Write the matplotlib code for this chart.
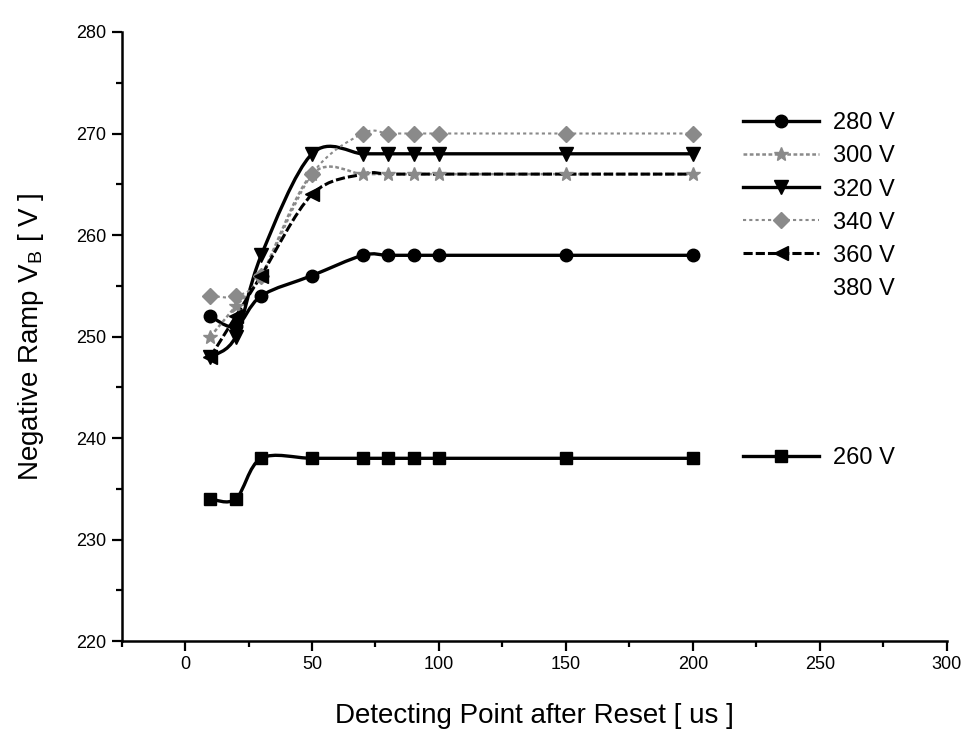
import numpy as np
import matplotlib
matplotlib.use("Agg")
import matplotlib.pyplot as plt
from matplotlib.path import Path
from matplotlib.patches import PathPatch
from matplotlib.lines import Line2D
from matplotlib.ticker import MultipleLocator

plt.rcParams['font.family'] = ['Liberation Sans', 'DejaVu Sans']

# --------------------------------
# data
t_us = [10, 20, 30, 50, 70, 80, 90, 100, 150, 200]
v260 = [234, 234, 238, 238, 238, 238, 238, 238, 238, 238]
v280 = [252, 251, 254, 256, 258, 258, 258, 258, 258, 258]
v300 = [250, 253, 256, 266, 266, 266, 266, 266, 266, 266]
v320 = [248, 250, 258, 268, 268, 268, 268, 268, 268, 268]
v340 = [254, 254, 256, 266, 270, 270, 270, 270, 270, 270]
v360 = [248, 252, 256, 264, 266, 266, 266, 266, 266, 266]

labels = ['280 V', '300 V', '320 V', '340 V', '360 V', '380 V']
# --------------------------------


def spline_path(x, y):
    # catmull-rom style bezier through the points (like origin's spline connect)
    x = np.asarray(x, float)
    y = np.asarray(y, float)
    verts = [(x[0], y[0])]
    codes = [Path.MOVETO]
    n = len(x)
    for i in range(n - 1):
        i0 = max(i - 1, 0)
        i3 = min(i + 2, n - 1)
        c1 = (x[i] + (x[i + 1] - x[i0]) / 6.0, y[i] + (y[i + 1] - y[i0]) / 6.0)
        c2 = (x[i + 1] - (x[i3] - x[i]) / 6.0, y[i + 1] - (y[i3] - y[i]) / 6.0)
        verts += [c1, c2, (x[i + 1], y[i + 1])]
        codes += [Path.CURVE4] * 3
    return Path(verts, codes)


fig = plt.figure(figsize=(9.65, 7.39), dpi=100)
ax = fig.add_axes([0.126, 0.1326, 0.855, 0.8241])

gray = '#8a8a8a'
styles = [
    (v260, 's', 'black', '-', 2.4, 9),
    (v280, 'o', 'black', '-', 2.4, 9),
    (v300, '*', gray, (0, (1.5, 1)), 1.8, 10),
    (v320, 'v', 'black', '-', 2.4, 10),
    (v340, 'D', gray, (0, (1.5, 1.5)), 1.5, 8),
    (v360, '<', 'black', (0, (3, 1)), 2.2, 10),
]

handles = []
for vals, mk, col, ls, lw, ms in styles:
    ax.add_patch(PathPatch(spline_path(t_us, vals), fill=False, edgecolor=col,
                           linestyle=ls, linewidth=lw, zorder=2))
    every = [0, 1, 2, 3] if mk == '<' else None
    ax.plot(t_us, vals, linestyle='none', marker=mk, color=col, markersize=ms,
            markevery=every, zorder=3)
    handles.append(Line2D([], [], color=col, linestyle=ls, linewidth=lw,
                          marker=mk, markersize=ms))

h260 = handles[0]
main_handles = handles[1:] + [Line2D([], [], linestyle='none')]

leg = ax.legend(main_handles, labels, loc='upper left', bbox_to_anchor=(0.77, 0.848),
                bbox_transform=fig.transFigure, frameon=False, fontsize=17,
                handlelength=3.2, labelspacing=0.47, handletextpad=0.6, borderpad=0,
                borderaxespad=0)
ax.add_artist(leg)
ax.legend([h260], ['260 V'], loc='center left', bbox_to_anchor=(0.77, 0.380),
          bbox_transform=fig.transFigure, frameon=False, fontsize=17,
          handlelength=3.2, handletextpad=0.6, borderpad=0, borderaxespad=0)

ax.set_xlim(-25, 300)
ax.set_ylim(220, 280)
ax.xaxis.set_major_locator(MultipleLocator(50))
ax.xaxis.set_minor_locator(MultipleLocator(25))
ax.yaxis.set_major_locator(MultipleLocator(10))
ax.yaxis.set_minor_locator(MultipleLocator(5))
ax.tick_params(which='major', direction='out', length=7, width=1.6, labelsize=13, pad=4)
ax.tick_params(which='minor', direction='out', length=4.5, width=1.6)
ax.spines['top'].set_visible(False)
ax.spines['right'].set_visible(False)
ax.spines['left'].set_linewidth(1.8)
ax.spines['bottom'].set_linewidth(1.8)

ax.set_xlabel('Detecting Point after Reset [ us ]', fontsize=20)
ax.xaxis.set_label_coords(0.5, -0.102)
ax.set_ylabel('Negative Ramp V$_\\mathregular{B}$ [ V ]', fontsize=20, va='center')
ax.yaxis.set_label_coords(-0.11, 0.5)

fig.savefig('out.png', dpi=100)
